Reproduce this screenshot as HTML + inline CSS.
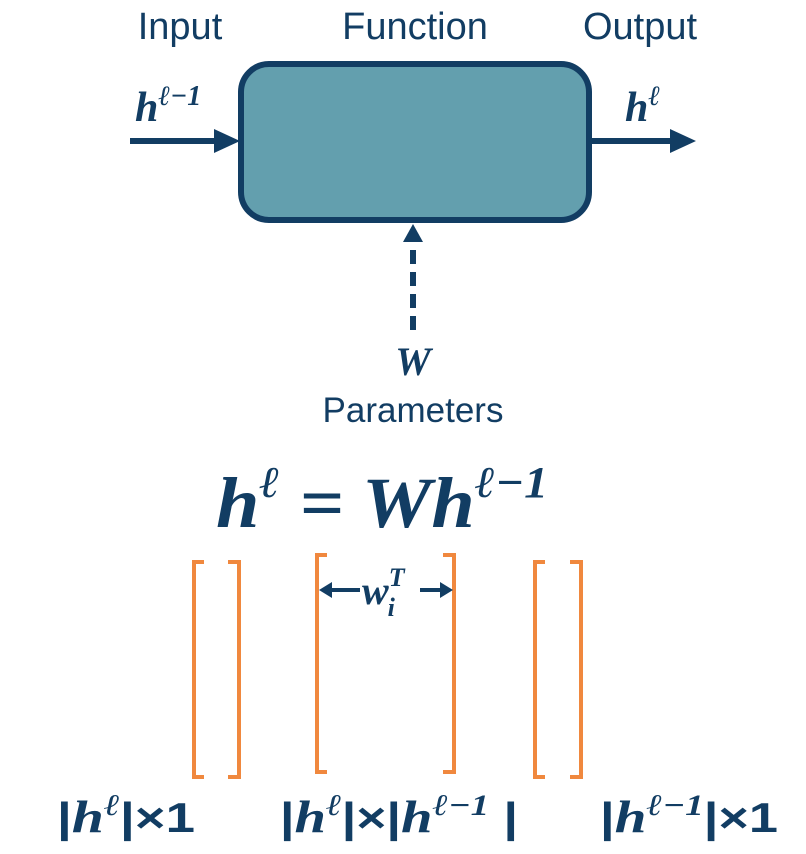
<!DOCTYPE html>
<html><head><meta charset="utf-8"><style>
html,body{margin:0;padding:0;background:#fff;}
svg{display:block;}
.s{font-family:"Liberation Sans",sans-serif;fill:#123d63;}
.m{font-family:"Liberation Serif",serif;font-weight:bold;font-style:italic;fill:#123d63;}
.b{font-family:"Liberation Sans",sans-serif;font-weight:bold;fill:#123d63;}
</style></head><body>
<svg width="806" height="854" viewBox="0 0 806 854">
<text class="s" x="180" y="39" font-size="38" text-anchor="middle">Input</text>
<text class="s" x="415" y="39" font-size="38" text-anchor="middle">Function</text>
<text class="s" x="640" y="39" font-size="38" text-anchor="middle">Output</text>
<rect x="241" y="64" width="348" height="156" rx="28" fill="#639fae" stroke="#123d63" stroke-width="6"/>
<line x1="130" y1="141" x2="218" y2="141" stroke="#123d63" stroke-width="6"/>
<path d="M214,129 L240,141 L214,153 z" fill="#123d63"/>
<line x1="592" y1="141" x2="674" y2="141" stroke="#123d63" stroke-width="6"/>
<path d="M670,129 L696,141 L670,153 z" fill="#123d63"/>
<line x1="413" y1="330" x2="413" y2="242" stroke="#123d63" stroke-width="6" stroke-dasharray="14,8"/>
<path d="M403,242 L413,224 L423,242 z" fill="#123d63"/>
<text class="m" x="135" y="121" font-size="42">h<tspan font-size="28" dy="-16">ℓ−1</tspan></text>
<text class="m" x="625" y="121" font-size="42">h<tspan font-size="28" dy="-16">ℓ</tspan></text>
<text class="m" x="413" y="375" font-size="40" text-anchor="middle">W</text>
<text class="s" x="413" y="422" font-size="35" text-anchor="middle">Parameters</text>
<text class="m" x="216" y="527" font-size="72" textLength="332" lengthAdjust="spacingAndGlyphs">h<tspan font-size="44" dy="-30">ℓ</tspan><tspan dy="30"> = Wh</tspan><tspan font-size="44" dy="-30">ℓ−1</tspan></text>
<g fill="none" stroke="#f0883e" stroke-width="4">
<path d="M204,562 L194,562 L194,777 L204,777"/>
<path d="M228,562 L239,562 L239,777 L228,777"/>
<path d="M327,555 L317,555 L317,772 L327,772"/>
<path d="M443,555 L454,555 L454,772 L443,772"/>
<path d="M545,562 L535,562 L535,777 L545,777"/>
<path d="M570,562 L581,562 L581,777 L570,777"/>
</g>
<line x1="325" y1="590" x2="360" y2="590" stroke="#123d63" stroke-width="4"/>
<path d="M319,590 L332,582 L332,598 z" fill="#123d63"/>
<line x1="420" y1="590" x2="446" y2="590" stroke="#123d63" stroke-width="4"/>
<path d="M453,590 L440,582 L440,598 z" fill="#123d63"/>
<text class="m" x="362" y="604" font-size="40">w<tspan font-size="26" dy="-18">T</tspan><tspan font-size="26" dx="-16" dy="30">i</tspan></text>
<text class="b" x="57" y="832" font-size="42" textLength="138" lengthAdjust="spacingAndGlyphs">|<tspan class="m" font-size="46">h</tspan><tspan font-size="30" dy="-17" class="m">ℓ</tspan><tspan dy="17">|×1</tspan></text>
<text class="b" x="280" y="832" font-size="42" textLength="238" lengthAdjust="spacingAndGlyphs">|<tspan class="m" font-size="46">h</tspan><tspan font-size="30" dy="-17" class="m">ℓ</tspan><tspan dy="17">|×|</tspan><tspan class="m" font-size="46">h</tspan><tspan font-size="30" dy="-17" class="m">ℓ−1</tspan><tspan dy="17"> |</tspan></text>
<text class="b" x="600" y="832" font-size="42" textLength="178" lengthAdjust="spacingAndGlyphs">|<tspan class="m" font-size="46">h</tspan><tspan font-size="30" dy="-17" class="m">ℓ−1</tspan><tspan dy="17">|×1</tspan></text>
</svg>
</body></html>
